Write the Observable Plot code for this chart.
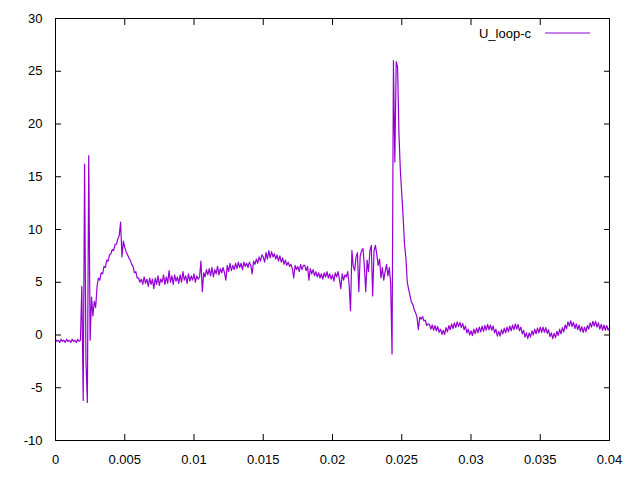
<!DOCTYPE html>
<html><head><meta charset="utf-8">
<script src="https://cdn.jsdelivr.net/npm/d3@7"></script>
<script src="https://cdn.jsdelivr.net/npm/@observablehq/plot@0.6"></script>
<style>body{margin:0;background:#fff}#chart{width:640px;height:480px}</style>
</head><body><div id="chart"></div>
<script>
const seriesName = "U_loop-c";
const tStart = 0;
const tStep = 0.0001;
// sampled values of U_loop-c, one per 0.0001 s (rows of 0.001 s)
const uLoop = [
 -0.4,-0.6,-0.5,-0.7,-0.4,-0.6,-0.5,-0.7,-0.4,-0.6,
 -0.5,-0.7,-0.4,-0.6,-0.5,-0.7,-0.4,-0.6,-0.5,4.6,
 -6.2,16.2,-2.5,-6.4,17.0,-0.5,3.6,1.8,3.2,2.6,
 4.6,5.4,5.2,5.9,5.8,6.5,6.4,7.1,7.0,7.6,
 7.7,8.1,8.0,8.6,8.6,9.1,9.4,10.7,7.4,8.9,
 8.3,7.9,7.6,7.3,7.1,6.7,6.5,5.9,6.0,5.4,
 5.4,5.0,5.3,4.8,5.5,4.9,5.3,4.6,5.4,4.8,
 5.3,4.4,5.4,4.8,5.6,4.7,5.3,5.0,5.7,4.8,
 5.5,4.9,6.1,5.0,5.6,4.8,5.7,5.1,5.5,4.9,
 5.7,5.0,6.0,5.2,5.6,4.9,5.8,5.1,5.6,5.2,
 5.8,5.0,5.6,5.3,5.5,7.0,4.1,5.9,5.5,6.2,
 5.7,6.3,5.6,6.4,5.5,6.2,5.8,6.5,5.7,6.3,
 5.9,6.4,5.9,5.2,6.6,6.0,6.8,6.1,6.6,6.2,
 6.8,6.3,6.9,6.4,6.8,6.2,6.9,6.5,6.8,6.4,
 6.9,6.6,5.8,7.0,6.7,7.2,6.8,7.4,7.0,7.6,
 7.4,6.9,7.8,7.2,8.0,7.3,7.9,7.4,7.7,7.2,
 7.6,7.0,7.5,6.9,7.3,6.7,7.1,6.6,6.9,6.5,
 6.7,6.3,5.4,6.6,6.2,6.5,6.0,6.7,6.2,6.6,
 6.6,6.1,6.5,5.2,6.3,5.8,6.2,5.6,6.0,5.5,
 5.9,5.4,5.8,5.3,5.9,5.5,6.0,5.4,5.8,5.3,
 5.7,5.1,5.9,5.5,6.0,5.3,4.4,5.8,5.2,5.7,
 5.5,6.0,4.8,2.3,8.0,6.5,6.1,7.4,7.8,4.1,
 7.5,8.0,8.2,6.5,4.1,7.1,6.0,8.0,8.5,3.7,
 8.0,8.5,7.6,6.6,7.2,5.4,6.4,5.2,6.0,6.7,
 5.6,6.4,4.9,-1.8,26.0,16.4,25.9,25.4,19.0,15.6,
 13.4,11.2,8.6,7.3,5.0,4.3,3.7,3.1,2.9,2.4,
 2.1,1.7,0.5,1.7,1.5,1.75,1.35,1.4,0.9,1.05,
 1.0,0.55,0.95,0.45,0.9,0.4,0.8,0.25,0.55,0.05,
 0.45,0.05,0.7,0.3,0.9,0.5,1.05,0.6,1.15,0.7,
 1.25,0.8,1.2,0.7,1.1,0.5,0.85,0.2,0.55,0.0,
 0.4,-0.05,0.55,0.1,0.65,0.2,0.75,0.3,0.85,0.35,
 0.9,0.45,1.0,0.5,0.95,0.45,0.85,0.2,0.55,-0.1,
 0.35,-0.1,0.5,0.1,0.65,0.2,0.75,0.3,0.85,0.4,
 0.95,0.5,1.05,0.55,1.0,0.4,0.75,0.1,0.45,-0.2,
 0.2,-0.35,0.2,-0.2,0.4,0.0,0.55,0.1,0.65,0.2,
 0.75,0.25,0.75,0.25,0.7,0.15,0.5,-0.15,0.2,-0.35,
 0.15,-0.25,0.35,-0.05,0.55,0.1,0.7,0.3,0.95,0.6,
 1.25,0.85,1.35,0.8,1.2,0.6,1.05,0.5,0.95,0.35,
 0.8,0.25,0.75,0.3,0.9,0.55,1.15,0.75,1.3,0.85,
 1.3,0.75,1.15,0.55,1.0,0.45,0.95,0.45,0.9,0.45,
 0.7
];
const xTicks = [0, 0.005, 0.01, 0.015, 0.02, 0.025, 0.03, 0.035, 0.04];
const yTicks = [-10, -5, 0, 5, 10, 15, 20, 25, 30];
const lineColor = "#9400d3";

const data = uLoop.map((u, i) => ({t: +(tStart + i * tStep).toFixed(5), u}));
const fmt = d => String(d);

function legendMark(index, scales, values, dim) {
  const g = d3.create("svg:g");
  const right = dim.width - dim.marginRight;
  const y = dim.marginTop + 15;
  g.append("text")
    .attr("x", right - 78).attr("y", y)
    .attr("text-anchor", "end").attr("dominant-baseline", "central")
    .attr("fill", "#000").text(seriesName);
  g.append("line")
    .attr("x1", right - 64).attr("x2", right - 19)
    .attr("y1", y).attr("y2", y)
    .attr("stroke", lineColor).attr("stroke-width", 1);
  return g.node();
}

const chart = Plot.plot({
  width: 640, height: 480,
  marginLeft: 55, marginRight: 31, marginTop: 18, marginBottom: 40,
  style: {fontFamily: "'Liberation Sans', Arial, sans-serif", fontSize: "13px", color: "#000", background: "#fff"},
  x: {domain: [0, 0.04], label: null},
  y: {domain: [-10, 30], label: null},
  marks: [
    Plot.axisX(xTicks, {anchor: "bottom", label: null, tickSize: 0, tickPadding: 14, tickFormat: fmt}),
    Plot.axisX(xTicks, {anchor: "bottom", label: null, tickSize: -6, tickFormat: () => ""}),
    Plot.axisX(xTicks, {anchor: "top", label: null, tickSize: -6, tickFormat: () => ""}),
    Plot.axisY(yTicks, {anchor: "left", label: null, tickSize: 0, tickPadding: 13, tickFormat: fmt}),
    Plot.axisY(yTicks, {anchor: "left", label: null, tickSize: -6, tickFormat: () => ""}),
    Plot.axisY(yTicks, {anchor: "right", label: null, tickSize: -6, tickFormat: () => ""}),
    Plot.line(data, {x: "t", y: "u", stroke: lineColor, strokeWidth: 1.2}),
    Plot.frame({stroke: "#000"}),
    legendMark
  ]
});
document.getElementById("chart").appendChild(chart);
</script>
</body></html>
